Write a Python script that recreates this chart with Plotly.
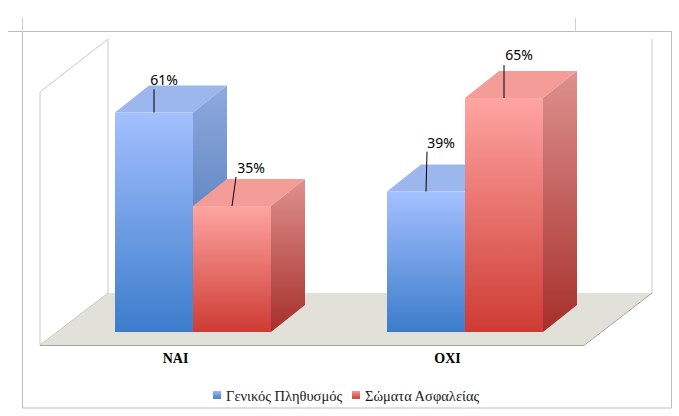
import plotly.graph_objects as go

# ---- data ----
categories = ["ΝΑΙ", "ΟΧΙ"]
series_names = ["Γενικός Πληθυσμός", "Σώματα Ασφαλείας"]
general_population = [61, 39]
security_forces = [35, 65]

W, H = 679, 416
PX_PER_CAT = 272.0
PX_PER_PCT = 3.6
X0_PX, Y0_PX = 193.0, 332.0   # where category 0 / value 0 fall on the page

BAR_W = 78 / PX_PER_CAT
DEPTH_X = 34 / PX_PER_CAT
DEPTH_Y = 27 / PX_PER_PCT

styles = [
    dict(front=["#3C7CCB", "#A4C0FF"], side=["#3A68A8", "#8FAADF"], top="#9CB6EE",
         legend=["#9CBCF5", "#3F7CCB"]),
    dict(front=["#CE3B34", "#FFA5A2"], side=["#A62F2A", "#DE918E"], top="#F39C98",
         legend=["#F59A96", "#CE3B34"]),
]
all_values = [general_population, security_forces]

# leader ends and label centres relative to the front-top centre of each bar (px)
leaders = {
    (0, 0): ((0, 23), (10, 31)),
    (1, 0): ((4, 29), (19, 37)),
    (0, 1): ((1, 40), (15, 47)),
    (1, 1): ((0, 33), (15, 42)),
}


def gx(px):
    return (px - X0_PX) / PX_PER_CAT


def gy(py):
    return (Y0_PX - py) / PX_PER_PCT


def poly(xs, ys, color=None, gradient=None):
    kw = dict(x=xs + xs[:1], y=ys + ys[:1], mode="lines", line=dict(width=0),
              fill="toself", showlegend=False, hoverinfo="skip")
    if gradient:
        kw["fillgradient"] = dict(type="vertical",
                                  colorscale=[[0, gradient[0]], [1, gradient[1]]])
    else:
        kw["fillcolor"] = color
    return go.Scatter(**kw)


fig = go.Figure()

# bars, drawn back to front through the data scales
for c in range(len(categories)):
    for s, values in enumerate(all_values):
        v = values[c]
        st = styles[s]
        left = c - BAR_W if s == 0 else c
        right = left + BAR_W
        fig.add_trace(poly([left, right, right + DEPTH_X, left + DEPTH_X],
                           [v, v, v + DEPTH_Y, v + DEPTH_Y], color=st["top"]))
        fig.add_trace(poly([right, right + DEPTH_X, right + DEPTH_X, right],
                           [0, DEPTH_Y, v + DEPTH_Y, v], gradient=st["side"]))
        fig.add_trace(poly([left, right, right, left], [0, 0, v, v], gradient=st["front"]))

# leader lines and value labels
for c in range(len(categories)):
    for s, values in enumerate(all_values):
        v = values[c]
        left = c - BAR_W if s == 0 else c
        mid = left + BAR_W / 2
        (lx, ly), (tx, ty) = leaders[(s, c)]
        fig.add_trace(go.Scatter(x=[mid, mid + lx / PX_PER_CAT], y=[v, v + ly / PX_PER_PCT],
                                 mode="lines", line=dict(color="black", width=1),
                                 showlegend=False, hoverinfo="skip"))
        fig.add_trace(go.Scatter(x=[mid + tx / PX_PER_CAT], y=[v + ty / PX_PER_PCT],
                                 mode="text", text=[f"{v}%"], textposition="middle center",
                                 textfont=dict(family="Noto Sans", size=14, color="black"),
                                 showlegend=False, hoverinfo="skip"))

# category labels
fig.add_trace(go.Scatter(x=[c - 17.5 / PX_PER_CAT for c in range(len(categories))],
                         y=[gy(359.5)] * len(categories), mode="text", text=categories,
                         textposition="middle center",
                         textfont=dict(family="Liberation Serif", size=14, color="black"),
                         texttemplate="<b>%{text}</b>", showlegend=False, hoverinfo="skip"))

# legend entries
for name, st in zip(series_names, styles):
    fig.add_trace(go.Scatter(x=[None], y=[None], mode="markers", name=name,
                             marker=dict(symbol="square", size=8, color=st["legend"][0],
                                         gradient=dict(type="vertical", color=st["legend"][1]))))

# walls, floor, frame (page furniture)
GRAY = "#C9C9C9"


def line(x0, y0, x1, y1, color=GRAY, width=1):
    return dict(type="line", xref="x", yref="y", x0=gx(x0), y0=gy(y0), x1=gx(x1), y1=gy(y1),
                line=dict(color=color, width=width), layer="below")


shapes = [
    dict(type="path", xref="paper", yref="paper", layer="below", line=dict(width=0),
         fillcolor="#E1E1D9",
         path="M {:.4f} {:.4f} L {:.4f} {:.4f} L {:.4f} {:.4f} L {:.4f} {:.4f} Z".format(
             40 / W, 1 - 345 / H, 108 / W, 1 - 293 / H, 652 / W, 1 - 293 / H, 584 / W, 1 - 345 / H)),
    line(40, 345, 40, 92), line(40, 92, 108, 39), line(108, 39, 108, 293), line(40, 345, 108, 293),
    line(652, 39, 652, 293),
    line(40, 345.5, 584, 345.5, "#A3A3A3"), line(584, 345.5, 652, 293, "#A3A3A3"),
    line(22.5, 31.5, 671.5, 31.5, "#BDBDBD"), line(671.5, 31.5, 671.5, 408, "#BDBDBD"),
    line(22.5, 408, 671.5, 408, "#BDBDBD"), line(22.5, 31.5, 22.5, 408, "#BDBDBD"),
    line(8, 31.5, 22.5, 31.5, "#BDBDBD"), line(22.5, 18, 22.5, 31.5, "#D0D0D0"),
    line(575.5, 18, 575.5, 31.5, "#D0D0D0"),
]

fig.update_layout(
    width=W, height=H, margin=dict(l=0, r=0, t=0, b=0),
    paper_bgcolor="white", plot_bgcolor="white", shapes=shapes,
    xaxis=dict(range=[gx(0), gx(W)], visible=False, fixedrange=True),
    yaxis=dict(range=[gy(H), gy(0)], visible=False, fixedrange=True),
    legend=dict(orientation="h", x=186 / W, y=1 - 395 / H, xanchor="left", yanchor="middle",
                font=dict(family="Liberation Serif", size=14.5, color="#1a1a1a"),
                bgcolor="rgba(0,0,0,0)", itemwidth=30, entrywidth=94, entrywidthmode="pixels"),
)

# remove the page's default margin, tuck the legend keys next to their labels,
# and let the last label run past the narrowed legend box
post = """
document.body.style.margin = '0';
var nudge = function () {
  document.querySelectorAll('.legendsymbols').forEach(function (g) {
    g.setAttribute('transform', 'translate(11,0)');
  });
  document.querySelectorAll('.legend .scrollbox, .legend .legendtoggle').forEach(function (g) {
    g.removeAttribute('clip-path');
    g.style.clipPath = 'none';
  });
  document.querySelectorAll('.legend').forEach(function (g) {
    g.removeAttribute('clip-path');
    g.style.clipPath = 'none';
    g.style.overflow = 'visible';
  });
};
nudge();
requestAnimationFrame(nudge);
setTimeout(nudge, 100);
"""
fig.write_html("out.html", post_script=post, config={"displayModeBar": False})
